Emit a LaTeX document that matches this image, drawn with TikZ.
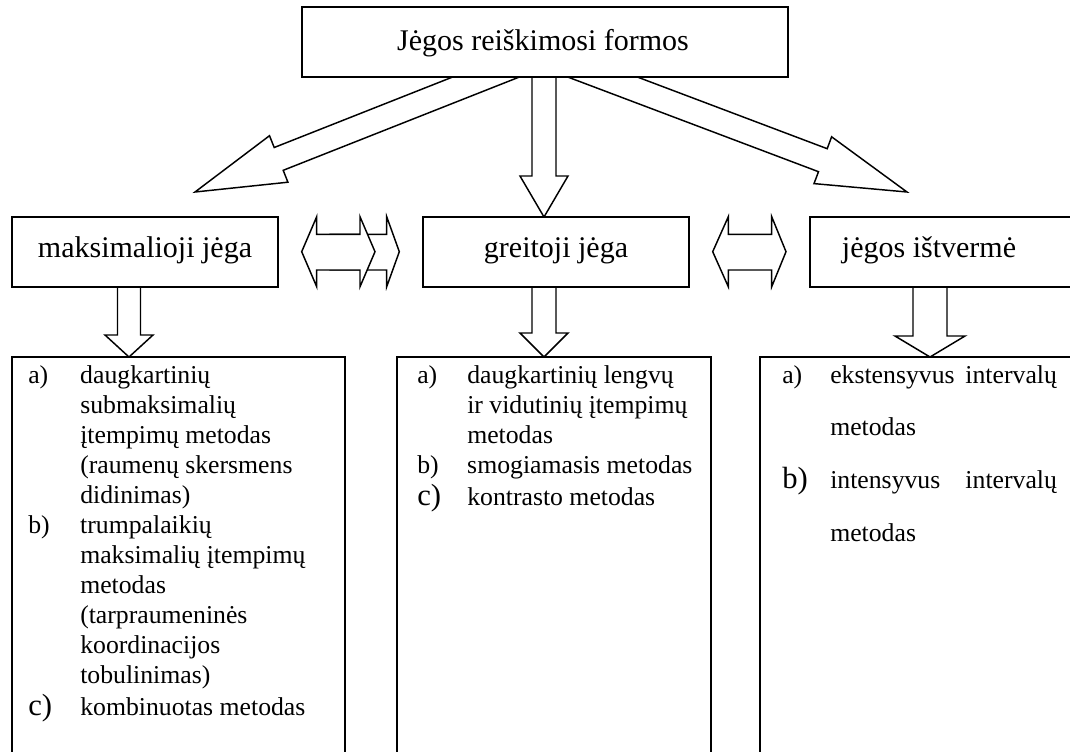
\documentclass[tikz,border=0pt]{standalone}
\usepackage{fontspec}
\setmainfont{Liberation Serif}
\usetikzlibrary{fit,calc}
\newcommand\biglab[1]{{\fontsize{23}{22.5}\selectfont #1}}
\begin{document}
\begin{tikzpicture}[x=0.75pt,y=-0.75pt,
  box/.style={draw, fill=white, line width=1.1pt, inner sep=0pt},
  blk/.style={draw, fill=white, line width=1.1pt, line join=miter},
  ttl/.style={font=\fontsize{22.5}{27}\selectfont, inner sep=0pt, anchor=base},
  lst/.style={font=\fontsize{19.3}{22.5}\selectfont, inner sep=0pt, anchor=base west}]
\useasboundingbox (0,0) rectangle (1070,751);
% ---- block arrows (drawn first, partly hidden by the boxes) ----
% diagonal left
\coordinate (tipL) at (195,192);
\draw[blk] (tipL) -- (287.9,182.2) -- (283.2,170.3) -- (546.2,66.4) -- (537.2,43.6) -- (274.2,147.5) -- (269.5,135.7) -- cycle;
% diagonal right
\coordinate (tipR) at (907,192);
\draw[blk] (tipR) -- (831.6,136.8) -- (827.2,148.7) -- (548.6,43.5) -- (539.9,66.5) -- (818.5,171.7) -- (814.0,183.6) -- cycle;
% center down arrow
\coordinate (tipC) at (544,217);
\draw[blk] (532,60) -- (532,176) -- (520,176) -- (tipC) -- (568,176) -- (556,176) -- (556,60) -- cycle;
% lower down arrows
\coordinate (tip1) at (129,357);
\draw[blk] (117.5,270) -- (117.5,335) -- (105,335) -- (tip1) -- (153,335) -- (140.5,335) -- (140.5,270) -- cycle;
\coordinate (tip2) at (544,357);
\draw[blk] (532,270) -- (532,333) -- (520,333) -- (tip2) -- (568,333) -- (556,333) -- (556,270) -- cycle;
\coordinate (tip3) at (930,357);
\draw[blk] (913,270) -- (913,336) -- (895,336) -- (tip3) -- (965,336) -- (947,336) -- (947,270) -- cycle;
% double arrows
\draw[blk] (330,234.3) -- (386.7,234.3) -- (386.7,216.7) -- (399.3,251.7) -- (386.7,286.7) -- (386.7,270) -- (330,270) -- cycle;
\draw[blk] (301.7,251.7) -- (316.7,216.7) -- (316.7,234.3) -- (360,234.3) -- (360,216.7) -- (375,251.7) -- (360,286.7) -- (360,270) -- (316.7,270) -- (316.7,286.7) -- cycle;
\draw[blk] (712.7,251.7) -- (728.3,216.7) -- (728.3,234.3) -- (771.7,234.3) -- (771.7,216.7) -- (786,251.7) -- (771.7,286.7) -- (771.7,270) -- (728.3,270) -- (728.3,286.7) -- cycle;
% ---- boxes ----
\node[box, fit={(302,7)(788,77)}] (top) {};
\node[box, fit={(12,217)(278,287)}] (maks) {};
\node[box, fit={(423,217)(689,287)}] (greit) {};
\node[box, fit={(810,217)(1085,287)}] (istv) {};
\node[box, fit={(12,357)(345,765)}] (l1) {};
\node[box, fit={(397,357)(711,765)}] (l2) {};
\node[box, fit={(760,357)(1085,765)}] (l3) {};
% ---- titles ----
\node[ttl] (toptxt) at (543,50) {Jėgos reiškimosi formos};
\node[ttl] (makstxt) at (145,257) {maksimalioji jėga};
\node[ttl] (greittxt) at (556,257) {greitoji jėga};
\node[ttl] (istvtxt) at (929,257) {jėgos ištvermė};
% ---- lists ----
\node[lst] (list1) at (28,383) {\begin{tabular}[t]{@{}l@{}l@{}}
\makebox[39pt][l]{a)} & daugkartinių\\
 & submaksimalių\\
 & įtempimų metodas\\
 & (raumenų skersmens\\
 & didinimas)\\
b) & trumpalaikių\\
 & maksimalių įtempimų\\
 & metodas\\
 & (tarpraumeninės\\
 & koordinacijos\\
 & tobulinimas)\\[2pt]
\biglab{c)} & kombinuotas metodas
\end{tabular}};
\node[lst] (list2) at (417,383) {\begin{tabular}[t]{@{}l@{}l@{}}
\makebox[37.5pt][l]{a)} & daugkartinių lengvų\\
 & ir vidutinių įtempimų\\
 & metodas\\
b) & smogiamasis metodas\\[2pt]
\biglab{c)} & kontrasto metodas
\end{tabular}};
\node[lst] (list3) at (782,383) {\begin{tabular}[t]{@{}l@{}l@{}}
\makebox[36pt][l]{a)} & \makebox[170pt][s]{ekstensyvus\hfill intervalų}\\[17pt]
 & metodas\\[17pt]
\biglab{b)} & \makebox[170pt][s]{intensyvus\hfill intervalų}\\[17pt]
 & metodas
\end{tabular}};
\end{tikzpicture}
\end{document}
